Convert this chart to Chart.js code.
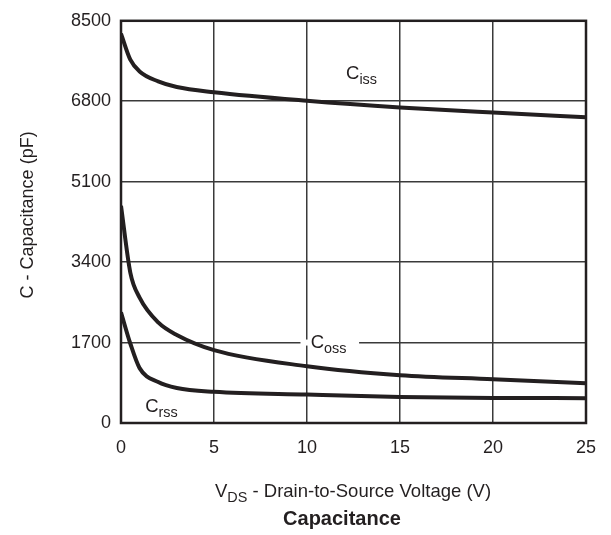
<!DOCTYPE html>
<html>
<head>
<meta charset="utf-8">
<script src="https://cdn.jsdelivr.net/npm/chart.js@4"></script>
<style>
  html, body { margin: 0; padding: 0; background: #fff; }
  #wrap { width: 611px; height: 535px; }
</style>
</head>
<body>
<div id="wrap"><canvas id="chart" width="611" height="535"></canvas></div>
<script>
// Datos
const vds  = [0, 0.5, 1, 2, 3, 5, 10, 15, 20, 25];
const ciss = [8230, 7680, 7430, 7220, 7100, 6990, 6810, 6670, 6560, 6460];
const coss = [4590, 3180, 2650, 2125, 1860, 1540, 1200, 1010, 925, 840];
const crss = [2340, 1680, 1160, 865, 740, 660, 600, 550, 530, 525];
const xTicks = [0, 5, 10, 15, 20, 25];
const yTicks = [0, 1700, 3400, 5100, 6800, 8500];

const FONT = '"Liberation Sans", Arial, Helvetica, sans-serif';
const INK = '#231f20';

function puntos(serie) {
    return vds.map((v, i) => ({ x: v, y: serie[i] }));
}

function serie(label, datos) {
    return {
        label: label,
        data: puntos(datos),
        borderColor: INK,
        borderWidth: 4,
        pointRadius: 0,
        showLine: true,
        fill: false,
        cubicInterpolationMode: 'monotone'
    };
}

// texto con subíndice
function conSub(ctx, x, y, base, sub, size) {
    const subSize = size * 0.78;
    ctx.textAlign = 'left';
    ctx.textBaseline = 'alphabetic';
    ctx.font = size + 'px ' + FONT;
    const wb = ctx.measureText(base).width;
    ctx.fillText(base, x, y);
    ctx.font = subSize + 'px ' + FONT;
    ctx.fillText(sub, x + wb, y + size * 0.28);
    return x + wb + ctx.measureText(sub).width;
}

const etiquetas = {
    id: 'etiquetas',
    afterDraw(chart) {
        const ctx = chart.ctx;
        const a = chart.chartArea;
        const sx = chart.scales.x, sy = chart.scales.y;
        ctx.save();
        ctx.fillStyle = INK;

        // marco
        ctx.strokeStyle = INK;
        ctx.lineWidth = 2.5;
        ctx.strokeRect(a.left, a.top, a.right - a.left, a.bottom - a.top);

        // Ciss
        conSub(ctx, sx.getPixelForValue(12.1), sy.getPixelForValue(7270), 'C', 'iss', 18.5);

        // Coss con fondo blanco sobre la rejilla
        ctx.fillStyle = '#fff';
        ctx.fillRect(sx.getPixelForValue(9.65), sy.getPixelForValue(1700) - 3, sx.getPixelForValue(12.8) - sx.getPixelForValue(9.65), 6);
        ctx.fillStyle = INK;
        conSub(ctx, sx.getPixelForValue(10.2), sy.getPixelForValue(1580), 'C', 'oss', 18.5);

        // Crss
        conSub(ctx, sx.getPixelForValue(1.3), sy.getPixelForValue(230), 'C', 'rss', 18.5);

        // titulo eje Y
        ctx.save();
        ctx.translate(33, (a.top + a.bottom) / 2 - 7);
        ctx.rotate(-Math.PI / 2);
        ctx.font = '18px ' + FONT;
        ctx.textAlign = 'center';
        ctx.textBaseline = 'alphabetic';
        ctx.fillText('C - Capacitance (pF)', 0, 0);
        ctx.restore();

        // titulo eje X
        const xFin = conSub(ctx, 215, 497, 'V', 'DS', 18.5);
        ctx.font = '18.5px ' + FONT;
        ctx.fillText(' - Drain-to-Source Voltage (V)', xFin, 497);

        // titulo
        ctx.font = 'bold 20px ' + FONT;
        ctx.textAlign = 'center';
        ctx.fillText('Capacitance', 342, 525);
        ctx.restore();
    }
};

new Chart(document.getElementById('chart'), {
    type: 'scatter',
    data: {
        datasets: [serie('Ciss', ciss), serie('Coss', coss), serie('Crss', crss)]
    },
    options: {
        responsive: false,
        animation: false,
        layout: { padding: { left: 0, right: 25, top: 19, bottom: 0 } },
        plugins: {
            legend: { display: false },
            tooltip: { enabled: false }
        },
        scales: {
            x: {
                type: 'linear',
                min: 0,
                max: 25,
                afterFit: s => { s.height = 112; },
                afterBuildTicks: s => { s.ticks = xTicks.map(v => ({ value: v })); },
                grid: { color: '#3a3a3a', lineWidth: 1.5, drawTicks: false },
                border: { display: false },
                ticks: {
                    color: INK,
                    padding: 14,
                    font: { family: FONT, size: 18 },
                    callback: v => String(v)
                }
            },
            y: {
                min: 0,
                max: 8500,
                afterFit: s => { s.width = 121; },
                afterBuildTicks: s => { s.ticks = yTicks.map(v => ({ value: v })); },
                grid: { color: '#3a3a3a', lineWidth: 1.5, drawTicks: false },
                border: { display: false },
                ticks: {
                    color: INK,
                    padding: 10,
                    font: { family: FONT, size: 18 },
                    callback: v => String(v)
                }
            }
        }
    },
    plugins: [etiquetas]
});
</script>
</body>
</html>
